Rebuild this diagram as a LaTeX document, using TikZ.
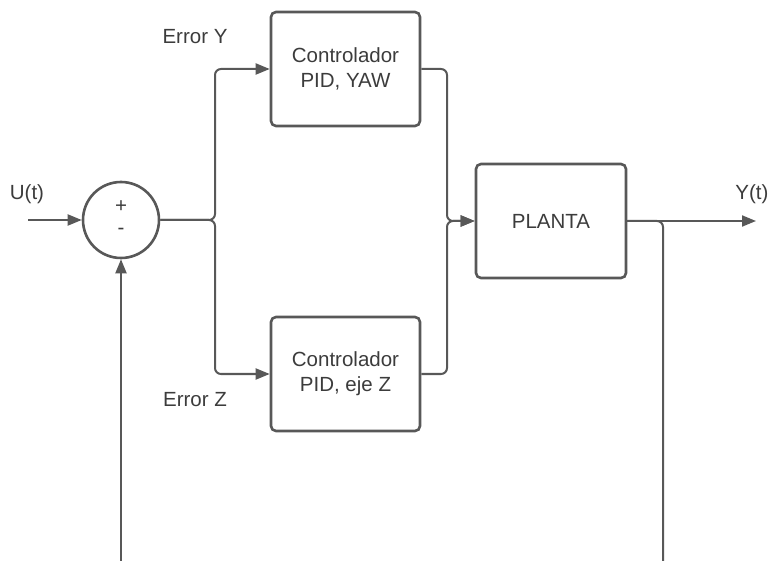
\documentclass[tikz,border=0pt]{standalone}
\usepackage{fontspec}
\setmainfont{Liberation Sans}
\usetikzlibrary{arrows.meta}
\definecolor{ln}{RGB}{88,88,88}
\definecolor{tx}{RGB}{60,60,60}
\tikzset{
  blk/.style={draw=ln, line width=2.6pt, rounded corners=5pt, minimum width=149pt, minimum height=114pt, inner sep=0pt, align=center, text=tx, font=\fontsize{20.5}{25}\selectfont},
  sumc/.style={draw=ln, line width=2.6pt, circle, minimum size=76pt, inner sep=0pt},
  lbl/.style={text=tx, inner sep=0pt, font=\fontsize{20.5}{25}\selectfont},
  con/.style={draw=ln, line width=2pt, rounded corners=6pt},
  arr/.style={con, -{Triangle[length=14pt,width=11pt]}}
}
\begin{document}
\begin{tikzpicture}[x=1pt,y=-1pt]
\useasboundingbox (0,0) rectangle (774,561);
\node[sumc] (sum) at (121,220) {};
\node[lbl] (plus) at (121,207) {+};
\node[lbl] (minus) at (121,231) {-};
\node[blk] (c1) at (345.5,69) {Controlador\\PID, YAW};
\node[blk] (c2) at (345.5,374) {Controlador\\PID, eje Z};
\node[blk, minimum width=150pt] (plant) at (551,221) {PLANTA};
\node[lbl] (ut) at (27,194) {U(t)};
\node[lbl] (yt) at (752,194) {Y(t)};
\node[lbl] (ey) at (195,37) {Error Y};
\node[lbl] (ez) at (195,400) {Error Z};
\coordinate (in) at (28,220);
\coordinate (split) at (215,220);
\coordinate (merge) at (447,221);
\coordinate (out) at (756,221);
\coordinate (br) at (663,221);
\coordinate (fbR) at (663,561);
\coordinate (fbL) at (121,561);
\draw[arr] (in) -- (sum.west);
\draw[arr] (sum.east) -- (split) |- (c1.west);
\draw[arr] (sum.east) -- (split) |- (c2.west);
\draw[arr] (c1.east) -| (merge) -- (plant.west);
\draw[arr] (c2.east) -| (merge) -- (plant.west);
\draw[arr] (plant.east) -- (out);
\draw[con] (plant.east) -- (br) -- (fbR);
\draw[arr] (fbL) -- (sum.south);
\end{tikzpicture}
\end{document}
